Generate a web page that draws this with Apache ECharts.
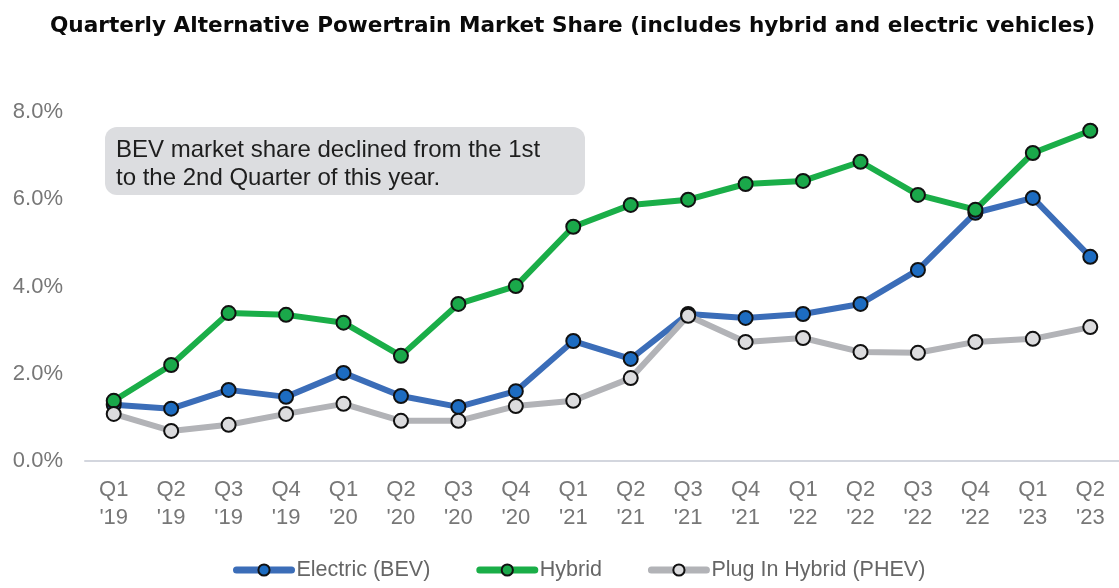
<!DOCTYPE html>
<html>
<head>
<meta charset="utf-8">
<script src="https://cdn.jsdelivr.net/npm/echarts@6/dist/echarts.min.js"></script>
<style>
  html, body { margin: 0; padding: 0; background: #fff; }
  #chart { width: 1119px; height: 588px; }
</style>
</head>
<body>
<div id="chart"></div>
<script>
const quarters = ['Q1\n\'19', 'Q2\n\'19', 'Q3\n\'19', 'Q4\n\'19',
                  'Q1\n\'20', 'Q2\n\'20', 'Q3\n\'20', 'Q4\n\'20',
                  'Q1\n\'21', 'Q2\n\'21', 'Q3\n\'21', 'Q4\n\'21',
                  'Q1\n\'22', 'Q2\n\'22', 'Q3\n\'22', 'Q4\n\'22',
                  'Q1\n\'23', 'Q2\n\'23'];
const electric = [1.29, 1.2, 1.63, 1.47, 2.02, 1.49, 1.24, 1.6, 2.75, 2.34, 3.37, 3.28, 3.37, 3.6, 4.38, 5.69, 6.03, 4.68];
const hybrid = [1.38, 2.2, 3.39, 3.35, 3.17, 2.41, 3.6, 4.01, 5.37, 5.87, 5.99, 6.35, 6.42, 6.86, 6.1, 5.76, 7.06, 7.57];
const phev = [1.08, 0.69, 0.83, 1.08, 1.31, 0.92, 0.92, 1.26, 1.38, 1.9, 3.33, 2.73, 2.82, 2.5, 2.48, 2.73, 2.8, 3.07];
const note = 'BEV market share declined from the 1st\nto the 2nd Quarter of this year.';

const chart = echarts.init(document.getElementById('chart'), null, { renderer: 'canvas' });

function lineSeries(name, data, lineColor, dotColor) {
    return {
        name: name,
        type: 'line',
        data: data,
        symbol: 'circle',
        symbolSize: 14,
        lineStyle: { color: lineColor, width: 6 },
        itemStyle: { color: dotColor, borderColor: '#111', borderWidth: 2 },
        emphasis: { disabled: true }
    };
}

const option = {
    animation: false,
    backgroundColor: '#fff',
    textStyle: { fontFamily: 'Liberation Sans' },
    title: {
        text: 'Quarterly Alternative Powertrain Market Share (includes hybrid and electric vehicles)',
        left: 45,
        top: 10,
        textStyle: { fontFamily: 'DejaVu Sans', fontWeight: 'bold', fontSize: 21.6, color: '#0a0a0a' }
    },
    grid: { left: 85, top: 112, width: 1040, height: 349 },
    legend: {
        left: 228,
        bottom: 2,
        itemWidth: 55,
        itemHeight: 14,
        itemGap: 46,
        lineStyle: { width: 7, cap: 'round' },
        textStyle: { fontSize: 21.5, color: '#666', fontFamily: 'Liberation Sans' }
    },
    xAxis: {
        type: 'category',
        data: quarters,
        boundaryGap: true,
        axisLine: { lineStyle: { color: '#d3d6de', width: 2 } },
        axisTick: { show: false },
        axisLabel: { color: '#777', fontSize: 22, lineHeight: 28, margin: 15, interval: 0 }
    },
    yAxis: {
        type: 'value',
        min: 0,
        max: 8,
        interval: 2,
        splitLine: { show: false },
        axisLine: { show: false },
        axisTick: { show: false },
        axisLabel: {
            color: '#777',
            fontSize: 22,
            margin: 22,
            formatter: v => v.toFixed(1) + '%'
        }
    },
    graphic: [{
        type: 'group',
        left: 105,
        top: 127,
        children: [
            { type: 'rect', shape: { x: 0, y: 0, width: 480, height: 68, r: 12 }, style: { fill: '#dcdde0' } },
            { type: 'text', x: 11, y: 9, style: { text: note, fill: '#1e1e1e', fontSize: 24, lineHeight: 28, fontFamily: 'Liberation Sans' } }
        ]
    }],
    series: [
        lineSeries('Electric (BEV)', electric, '#3b6db8', '#1d6cc1'),
        lineSeries('Hybrid', hybrid, '#1aae48', '#1aa84a'),
        lineSeries('Plug In Hybrid (PHEV)', phev, '#b2b3b7', '#dcdcde')
    ]
};

chart.setOption(option);
</script>
</body>
</html>
